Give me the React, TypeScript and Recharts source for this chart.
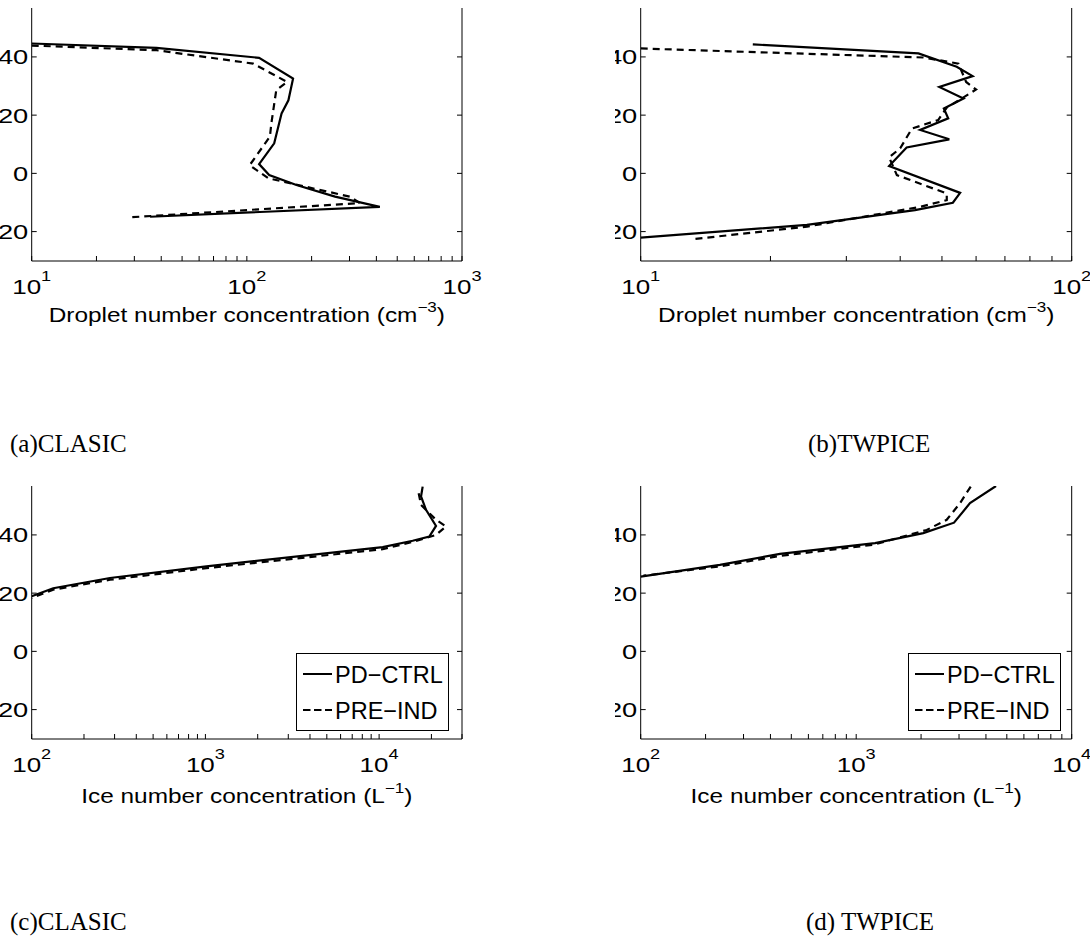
import React from 'react';
import { LineChart, Line, XAxis, YAxis, ReferenceLine, Legend } from 'recharts';

// Temperature (degC) levels and number concentrations.
// (a) CLASIC, droplets (cm^-3)
const clasicDropCtrlT = [-44.6, -43.1, -39.7, -32.6, -25.1, -20.6, -10.3, -3.2, 0.6, 4.0, 8.0, 11.5, 14.9];
const clasicDropCtrl = [10, 38, 114, 164, 156, 145, 134, 114, 127, 170, 257, 415, 35.5];
const clasicDropPreT = [-43.9, -42.3, -37.7, -31.4, -28.6, -17.2, -12.6, -2.8, 1.7, 8.0, 10.2, 15.1];
const clasicDropPre = [10, 38, 107, 154, 137, 130, 128, 103, 126, 301, 335, 28.6];

// (b) TWPICE, droplets (cm^-3)
const twpDropCtrlT = [-44.3, -41.2, -36.6, -33.4, -29.7, -25.7, -22.3, -18.9, -14.9, -11.7, -8.9, -2.5, 6.7, 10.1, 12.6, 17.7, 22.1];
const twpDropCtrl = [18.2, 44.1, 54.1, 58.9, 49.3, 56.1, 50.5, 51.7, 44.5, 52, 41.4, 37.7, 55.1, 53, 43.3, 24.3, 10];
const twpDropPreT = [-42.9, -39.8, -37.7, -31.4, -28.8, -26.1, -22.6, -18.3, -15.4, -8.6, -5.5, 0.6, 6.9, 9.2, 11.5, 18.3, 22.6];
const twpDropPre = [10, 45.3, 54.6, 56.9, 60, 56.1, 51.3, 49, 42.6, 40, 37.7, 39.3, 51.3, 51.3, 44.5, 24.3, 13.2];

// (c) CLASIC, ice (L^-1)
const clasicIceCtrlT = [-56.6, -53.2, -48.6, -43.1, -39.4, -38, -35.8, -29.2, -25.2, -21.7, -18.9];
const clasicIceCtrl = [17810, 17430, 18620, 21260, 19450, 15600, 10490, 1013, 282, 133, 100];
const clasicIcePreT = [-54.3, -50.3, -45.2, -42.9, -40, -37.9, -35.1, -28.6, -24.6, -21.2, -18.3];
const clasicIcePre = [16890, 17430, 21260, 24270, 21260, 16320, 10490, 1013, 282, 133, 100];

// (d) TWPICE, ice (L^-1)
const twpIceCtrlT = [-56.8, -50.9, -44.2, -40.6, -37.2, -33.5, -29.7, -25.7];
const twpIceCtrl = [4454, 3373, 2844, 2048, 1223, 443, 233, 100];
const twpIcePreT = [-56.6, -50.9, -45.2, -41.7, -36.6, -32.8, -29.2, -26];
const twpIcePre = [3399, 3032, 2630, 2124, 1201, 443, 233, 103];

const tempTicks = [-40, -20, 0, 20];
const tempDomain = [-56.8, 30.1];

const ticks10to1000 = [10, 20, 30, 40, 50, 60, 70, 80, 90, 100, 200, 300, 400, 500, 600, 700, 800, 900, 1000];
const ticks10to100 = [10, 20, 30, 40, 50, 60, 70, 80, 90, 100];
const ticks100to3e4 = [100, 200, 300, 400, 500, 600, 700, 800, 900, 1000, 2000, 3000, 4000, 5000, 6000, 7000, 8000, 9000, 10000, 20000, 30000];
const ticks100to1e4 = [100, 200, 300, 400, 500, 600, 700, 800, 900, 1000, 2000, 3000, 4000, 5000, 6000, 7000, 8000, 9000, 10000];

const SANS = '"Liberation Sans", Arial, Helvetica, sans-serif';
const SERIF = '"Liberation Serif", "Times New Roman", serif';
// the original figure is stretched sideways
const TITLE_STRETCH = 1.22;
const TICK_STRETCH = 1.3;

type Row = { t: number; v: number };
const rows = (t: number[], v: number[]): Row[] => t.map((tt, i) => ({ t: tt, v: v[i] }));

const AxisTitle = ({ cx, y, main, sup }: any) => (
  <text
    transform={`translate(${cx},${y}) scale(${TITLE_STRETCH},1)`}
    textAnchor="middle"
    fontSize={20}
    fontFamily={SANS}
    fill="#000"
  >
    {main}
    <tspan dy={-10} fontSize={14}>{sup}</tspan>
    <tspan dy={10}>)</tspan>
  </text>
);

const LegendBox = () => (
  <div
    style={{
      width: 153,
      height: 78,
      boxSizing: 'border-box',
      border: '1px solid #000',
      background: '#fff',
      position: 'relative',
    }}
  >
    <svg width={151} height={76} style={{ position: 'absolute', left: 0, top: 0 }}>
      <line x1={6} x2={35} y1={20} y2={20} stroke="#000" strokeWidth={2} />
      <text x={38} y={29.3} fontSize={23.5} fontFamily={SANS} fill="#000">PD{'\u2212'}CTRL</text>
      <line x1={6} x2={35} y1={56} y2={56} stroke="#000" strokeWidth={2} strokeDasharray="7.5 3.5" />
      <text x={38} y={65.3} fontSize={23.5} fontFamily={SANS} fill="#000">PRE{'\u2212'}IND</text>
    </svg>
  </div>
);

interface PanelProps {
  left: number;
  top: number;
  width: number;
  height: number;
  plot: { left: number; right: number; top: number; bottom: number };
  xDomain: number[];
  xTicks: number[];
  title: string;
  sup: string;
  titleDy: number;
  ctrl: Row[];
  pre: Row[];
  legendAt?: { x: number; y: number };
}

const Panel: React.FC<PanelProps> = ({ left, top, width, height, plot, xDomain, xTicks, title, sup, titleDy, ctrl, pre, legendAt }) => {
  const yTick = (p: any) => {
    const y = p.payload?.coordinate ?? p.y;
    const v = p.payload.value;
    const label = v < 0 ? '\u2212' + Math.abs(v) : String(v);
    return (
      <g>
        <line x1={plot.left} x2={plot.left + 5} y1={y} y2={y} stroke="#000" strokeWidth={1} />
        <line x1={plot.right - 5} x2={plot.right} y1={y} y2={y} stroke="#000" strokeWidth={1} />
        <text
          transform={`translate(${plot.left - 3.4},${y + 7.5}) scale(${TICK_STRETCH},1)`}
          textAnchor="end"
          fontSize={21}
          fontFamily={SANS}
          fill="#000"
        >
          {label}
        </text>
      </g>
    );
  };

  const xTick = (p: any) => {
    const cx = p.payload?.coordinate ?? p.x;
    const v = p.payload.value;
    const lg = Math.log10(v);
    const exp = Math.round(lg);
    const decade = Math.abs(lg - exp) < 1e-6;
    return (
      <g>
        <line x1={cx} x2={cx} y1={plot.bottom} y2={plot.bottom - 5} stroke="#000" strokeWidth={1} />
        {decade && (
          <text
            transform={`translate(${cx},${plot.bottom + 33}) scale(${TICK_STRETCH},1)`}
            textAnchor="middle"
            fontSize={20}
            fontFamily={SANS}
            fill="#000"
          >
            10
            <tspan dy={-13} fontSize={14}>{exp}</tspan>
          </text>
        )}
      </g>
    );
  };

  return (
    <div style={{ position: 'absolute', left, top }}>
      <LineChart
        width={width}
        height={height}
        layout="vertical"
        margin={{ top: plot.top, right: width - plot.right, bottom: 0, left: 0 }}
      >
        <XAxis
          type="number"
          scale="log"
          domain={xDomain}
          ticks={xTicks}
          interval={0}
          allowDataOverflow
          height={height - plot.bottom}
          axisLine={{ stroke: '#000', strokeWidth: 1 }}
          tickLine={false}
          tick={xTick}
          label={() => (
            <AxisTitle cx={(plot.left + plot.right) / 2} y={plot.bottom + titleDy} main={title} sup={sup} />
          )}
        />
        <YAxis
          type="number"
          dataKey="t"
          domain={tempDomain}
          ticks={tempTicks}
          interval={0}
          allowDataOverflow
          width={plot.left}
          axisLine={{ stroke: '#000', strokeWidth: 1 }}
          tickLine={false}
          tick={yTick}
        />
        <ReferenceLine x={xDomain[1]} stroke="#000" strokeWidth={1} ifOverflow="visible" />
        <Line
          data={ctrl}
          dataKey="v"
          name="PD-CTRL"
          type="linear"
          stroke="#000"
          strokeWidth={2.2}
          dot={false}
          isAnimationActive={false}
        />
        <Line
          data={pre}
          dataKey="v"
          name="PRE-IND"
          type="linear"
          stroke="#000"
          strokeWidth={2.2}
          strokeDasharray="7 5"
          dot={false}
          isAnimationActive={false}
        />
        {legendAt && (
          <Legend
            layout="horizontal"
            verticalAlign="middle"
            align="center"
            wrapperStyle={{ left: legendAt.x, top: legendAt.y, width: 153, height: 78 }}
            content={() => <LegendBox />}
          />
        )}
      </LineChart>
    </div>
  );
};

const captionStyle: React.CSSProperties = {
  position: 'absolute',
  fontFamily: SERIF,
  fontSize: 25,
  lineHeight: 1,
  color: '#000',
  whiteSpace: 'nowrap',
};

export default function App() {
  // left-hand subfigures are cropped at the page edge, right-hand ones at x = 615
  const topPlotL = { left: 31.7, right: 462, top: 8, bottom: 261 };
  const topPlotR = { left: 25.7, right: 456.7, top: 8, bottom: 261 };
  const botPlotL = { left: 31.7, right: 462, top: 16, bottom: 269 };
  const botPlotR = { left: 25.7, right: 456.7, top: 16, bottom: 269 };

  return (
    <div
      style={{
        position: 'absolute',
        left: 0,
        top: 0,
        width: 1090,
        height: 939,
        overflow: 'hidden',
        background: '#fff',
      }}
    >
      <Panel
        left={0}
        top={0}
        width={540}
        height={340}
        plot={topPlotL}
        xDomain={[10, 1000]}
        xTicks={ticks10to1000}
        title="Droplet number concentration (cm"
        sup={'\u22123'}
        titleDy={61}
        ctrl={rows(clasicDropCtrlT, clasicDropCtrl)}
        pre={rows(clasicDropPreT, clasicDropPre)}
      />
      <Panel
        left={615}
        top={0}
        width={475}
        height={340}
        plot={topPlotR}
        xDomain={[10, 100]}
        xTicks={ticks10to100}
        title="Droplet number concentration (cm"
        sup={'\u22123'}
        titleDy={61}
        ctrl={rows(twpDropCtrlT, twpDropCtrl)}
        pre={rows(twpDropPreT, twpDropPre)}
      />
      <Panel
        left={0}
        top={470}
        width={540}
        height={340}
        plot={botPlotL}
        xDomain={[100, 30000]}
        xTicks={ticks100to3e4}
        title="Ice number concentration (L"
        sup={'\u22121'}
        titleDy={64}
        ctrl={rows(clasicIceCtrlT, clasicIceCtrl)}
        pre={rows(clasicIcePreT, clasicIcePre)}
        legendAt={{ x: 296, y: 183 }}
      />
      <Panel
        left={615}
        top={470}
        width={475}
        height={340}
        plot={botPlotR}
        xDomain={[100, 10000]}
        xTicks={ticks100to1e4}
        title="Ice number concentration (L"
        sup={'\u22121'}
        titleDy={64}
        ctrl={rows(twpIceCtrlT, twpIceCtrl)}
        pre={rows(twpIcePreT, twpIcePre)}
        legendAt={{ x: 292.7, y: 182.7 }}
      />

      <div style={{ ...captionStyle, left: 10, top: 431 }}>(a)CLASIC</div>
      <div style={{ ...captionStyle, left: 808, top: 431 }}>(b)TWPICE</div>
      <div style={{ ...captionStyle, left: 10, top: 909 }}>(c)CLASIC</div>
      <div style={{ ...captionStyle, left: 806, top: 909 }}>(d) TWPICE</div>
    </div>
  );
}
